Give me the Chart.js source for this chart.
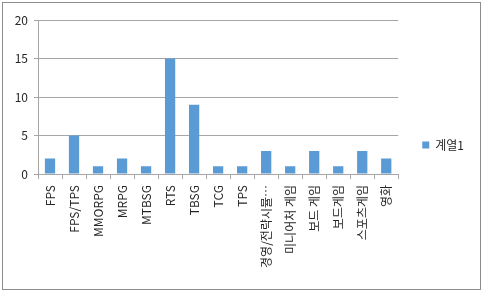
<!DOCTYPE html>
<html>
<head>
<meta charset="utf-8">
<script src="https://cdn.jsdelivr.net/npm/chart.js@4.4.0/dist/chart.umd.min.js"></script>
<style>
    body { margin: 0; background: #fff; }
    #wrap {
        position: absolute; left: 2px; top: 2px;
        width: 477px; height: 286px;
        border: 1px solid #8c8c8c;
    }
</style>
</head>
<body>
<div id="wrap"><canvas id="genreChart" width="477" height="286"></canvas></div>
<script>
// Chart data
const categories = [
    "FPS", "FPS/TPS", "MMORPG", "MRPG", "MTBSG", "RTS", "TBSG", "TCG", "TPS",
    "경영/전략시뮬…", "미니어처 게임", "보드 게임", "보드게임", "스포츠게임", "영화"
];
const seriesName = "계열1";
const seriesValues = [2, 5, 1, 2, 1, 15, 9, 1, 1, 3, 1, 3, 1, 3, 2];
const yTicks = [0, 5, 10, 15, 20];

const fontFamily = "'Noto Sans CJK KR', 'Noto Sans', sans-serif";
const gridColor = '#a6a6a6';
const textColor = '#262626';

window.onload = function() {
    var ctx = document.getElementById('genreChart').getContext('2d');
    new Chart(ctx, {
        type: 'bar',
        data: {
            labels: categories,
            datasets: [{
                label: seriesName,
                data: seriesValues,
                backgroundColor: '#5b9bd5',
                borderWidth: 0,
                barPercentage: 0.45,
                categoryPercentage: 0.95
            }]
        },
        options: {
            responsive: false,
            animation: false,
            // bottom padding keeps the legend centred where the original has it
            layout: { padding: { top: 17, left: 0, right: 6, bottom: 19 } },
            plugins: {
                legend: {
                    position: 'right',
                    labels: {
                        boxWidth: 7,
                        boxHeight: 7,
                        padding: 24,
                        color: textColor,
                        font: { family: fontFamily, size: 12 }
                    }
                },
                tooltip: { enabled: false }
            },
            scales: {
                x: {
                    afterFit: function(axis) { axis.height = 96; },
                    grid: {
                        drawOnChartArea: false,
                        offset: true,
                        tickLength: 5,
                        color: gridColor
                    },
                    border: { color: gridColor },
                    ticks: {
                        minRotation: 90,
                        maxRotation: 90,
                        autoSkip: false,
                        padding: 6,
                        color: textColor,
                        font: { family: fontFamily, size: 12 }
                    }
                },
                y: {
                    min: 0,
                    max: 20,
                    afterFit: function(axis) { axis.width = 35; },
                    afterBuildTicks: function(axis) {
                        axis.ticks = yTicks.map(v => ({ value: v }));
                    },
                    grid: { color: gridColor, tickLength: 4 },
                    border: { color: gridColor },
                    ticks: {
                        padding: 6,
                        color: textColor,
                        font: { family: fontFamily, size: 12 }
                    }
                }
            }
        }
    });
};
</script>
</body>
</html>
